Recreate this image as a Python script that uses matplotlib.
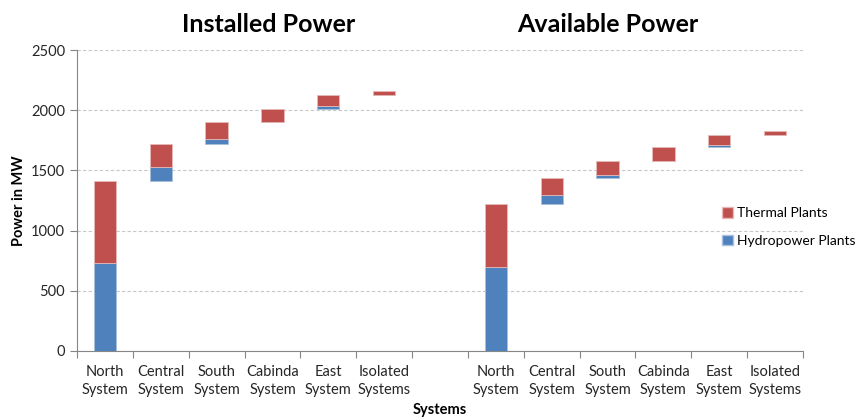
import numpy as np
import matplotlib
matplotlib.use("Agg")
import matplotlib.pyplot as plt
from matplotlib.patches import Patch

plt.rcParams['font.family'] = ['Lato', 'DejaVu Sans']

systems = ["North\nSystem", "Central\nSystem", "South\nSystem",
           "Cabinda\nSystem", "East\nSystem", "Isolated\nSystems"]
installed_hydro = [728, 122, 40, 0, 25, 0]
installed_thermal = [680, 188, 141, 111, 88, 36]
available_hydro = [695, 69, 27, 0, 22, 0]
available_thermal = [530, 142, 117, 113, 83, 28]
group_titles = ["Installed Power", "Available Power"]

blue = '#4F81BD'
red = '#C0504D'

fig = plt.figure(figsize=(8.57, 4.19), dpi=100)
ax = fig.add_axes([77 / 857, 1 - 351 / 419, (803 - 77) / 857, (351 - 50) / 419])

for g, (hydro, thermal) in enumerate([(installed_hydro, installed_thermal),
                                      (available_hydro, available_thermal)]):
    hydro = np.array(hydro, dtype=float)
    thermal = np.array(thermal, dtype=float)
    step = hydro + thermal
    base = np.concatenate([[0], np.cumsum(step)[:-1]])
    x = np.arange(len(systems)) + 0.5 + g * (len(systems) + 1)
    ax.bar(x, hydro, 0.4, bottom=base, color=blue, edgecolor='#A7C0DE', linewidth=0.6, zorder=3)
    ax.bar(x, thermal, 0.4, bottom=base + hydro, color=red, edgecolor='#E6B9B8', linewidth=0.6, zorder=3)

n = 2 * len(systems) + 1
centers = np.arange(n) + 0.5
ticklabels = systems + [""] + systems
ax.set_xlim(0, n)
ax.set_ylim(0, 2500)
ax.set_xticks(np.arange(n + 1))
ax.set_xticklabels([])
ax.set_xticks(centers, minor=True)
ax.set_xticklabels(ticklabels, minor=True, fontsize=10.5, color='#262626', linespacing=1.35)
ax.tick_params(axis='x', which='minor', length=0, pad=10)
ax.tick_params(axis='x', which='major', length=5, color='#868686', direction='out')
ax.set_yticks(np.arange(0, 2501, 500))
ax.tick_params(axis='y', length=5, color='#868686', labelsize=10.5, labelcolor='#262626')

ax.yaxis.grid(True, color='#C8C8C8', linestyle=(0, (3, 2)), linewidth=0.8, zorder=0)
for s in ['top', 'right']:
    ax.spines[s].set_visible(False)
for s in ['left', 'bottom']:
    ax.spines[s].set_color('#868686')

ax.set_ylabel("Power in MW", fontsize=10.5, fontweight='bold', labelpad=4)
fig.text(440 / 857, 1 - 410 / 419, "Systems", fontsize=10.5, fontweight='bold',
         ha='center', va='center')

fig.text(269 / 857, 1 - 25 / 419, group_titles[0], fontsize=18, fontweight='bold',
         ha='center', va='center')
fig.text(608 / 857, 1 - 25 / 419, group_titles[1], fontsize=18, fontweight='bold',
         ha='center', va='center')

handles = [Patch(facecolor=red, edgecolor='#E6B9B8'), Patch(facecolor=blue, edgecolor='#A7C0DE')]
fig.legend(handles, ["Thermal Plants", "Hydropower Plants"], loc='center left',
           bbox_to_anchor=(722 / 857, 1 - 227 / 419), frameon=False, fontsize=10,
           handlelength=0.8, handleheight=0.8, handletextpad=0.3, labelspacing=1.1,
           borderpad=0, borderaxespad=0)

fig.savefig("out.png", dpi=100)
